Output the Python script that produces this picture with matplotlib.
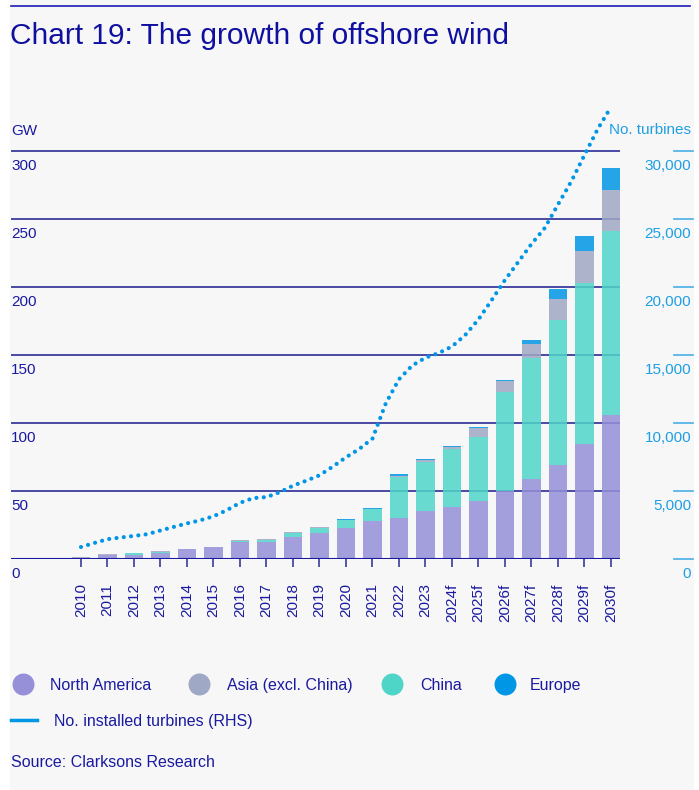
import matplotlib
matplotlib.use("Agg")
import matplotlib.pyplot as plt
import numpy as np
from matplotlib.patches import Rectangle
from matplotlib.transforms import blended_transform_factory, ScaledTranslation

plt.rcParams['font.family'] = ['Liberation Sans', 'DejaVu Sans']

# ---- data -------------------------------------------------------------
years = ['2010', '2011', '2012', '2013', '2014', '2015', '2016', '2017', '2018',
         '2019', '2020', '2021', '2022', '2023', '2024f', '2025f', '2026f',
         '2027f', '2028f', '2029f', '2030f']

# installed capacity, GW
north_america = [1.2, 3.5, 3.2, 4.4, 7.6, 9.0, 13.0, 13.0, 16.7, 19.6, 23.3,
                 28.4, 30.4, 35.5, 38.2, 42.9, 50.0, 59.0, 69.3, 84.8, 106.0]
china = [0.0, 0.0, 1.2, 1.2, 0.0, 0.0, 0.3, 1.5, 3.0, 3.5, 5.7,
         8.6, 30.2, 36.1, 43.2, 47.2, 73.2, 89.2, 106.9, 118.1, 135.6]
asia_ex_china = [0.5, 0.4, 0.3, 0.4, 0.1, 0.1, 0.8, 0.1, 0.2, 0.4, 0.2,
                 0.2, 1.0, 1.2, 1.4, 6.2, 7.9, 9.9, 15.0, 24.0, 29.9]
europe = [0.0, 0.0, 0.0, 0.0, 0.0, 0.0, 0.1, 0.4, 0.4, 0.3, 0.5,
          0.7, 1.2, 0.9, 0.8, 1.1, 0.7, 3.2, 7.5, 10.8, 16.0]

# installed turbines (RHS), half-yearly from 2010 to 2030
turbine_years = [2010 + 0.5 * i for i in range(41)]
turbines = [904, 1199, 1478, 1603, 1720, 1846, 2118, 2382, 2640, 2868, 3162,
            3610, 4154, 4500, 4574, 4934, 5412, 5779, 6176, 6816, 7500, 8110,
            8882, 11456, 13235, 14250, 14824, 15169, 15647, 16493, 17640,
            19066, 20537, 21860, 23184, 24360, 26088, 27779, 29728, 31640,
            33257]

gw_ticks = [0, 50, 100, 150, 200, 250, 300]
turbine_ticks = [0, 5000, 10000, 15000, 20000, 25000, 30000]

# ---- style ------------------------------------------------------------
NAVY = '#1a1aa0'
GRID = '#2b2b96'
SKY = '#1e9fe4'
C_NA = '#9590d8'
C_ASIA = '#9fa8c4'
C_CHINA = '#4fd5c8'
C_EU = '#0096e6'

W, H = 699, 790
fig = plt.figure(figsize=(W / 100, H / 100), dpi=100, facecolor='white')

# page layer in pixel coordinates
bg = fig.add_axes([0, 0, 1, 1], zorder=0)
bg.set_xlim(0, W)
bg.set_ylim(H, 0)
bg.axis('off')
bg.add_patch(Rectangle((10, 0), 684, H, color='#f7f7f7', lw=0))
bg.plot([11, 690], [6, 6], color='#1a1ab4', lw=1.2)
bg.text(10, 36, 'Chart 19: The growth of offshore wind', fontsize=21.5,
        color='#0f0fa0', va='center', ha='left')

# ---- main chart -------------------------------------------------------
y0, ytop = 559.3, 94.0
ax = fig.add_axes([11 / W, 1 - y0 / H, 609 / W, (y0 - ytop) / H], zorder=1)
ax.set_facecolor('none')
x = np.arange(len(years))
ax.set_xlim(-2.6415, 20.34)
gw_max = (y0 - ytop) / 1.36
ax.set_ylim(0, gw_max)
for s in ax.spines.values():
    s.set_visible(False)

for v in gw_ticks[1:]:
    ax.axhline(v, color=GRID, lw=1.2, zorder=0.5)
ax.axhline(0, color=NAVY, lw=1.5, zorder=3)

bottom = np.zeros(len(years))
for vals, col in [(north_america, C_NA), (china, C_CHINA),
                  (asia_ex_china, C_ASIA), (europe, C_EU)]:
    vals = np.array(vals)
    ax.bar(x, vals, width=0.7, bottom=bottom, color=col, alpha=0.85,
           lw=0, zorder=2)
    bottom += vals

ax.set_yticks([])
ax.set_xticks(x, years, rotation=90)
ax.tick_params(axis='x', length=5.8, width=1.1, color=GRID, pad=11.5,
               labelsize=11, labelcolor=NAVY)

lab_off = ScaledTranslation(0, -0.145, fig.dpi_scale_trans)
left_tr = blended_transform_factory(ax.transAxes, ax.transData)
for v in gw_ticks:
    ax.text(0, v, str(v), transform=left_tr + lab_off, ha='left',
            va='center', fontsize=11, color=NAVY)
ax.text(0, 315, 'GW', transform=left_tr, ha='left', va='center',
        fontsize=11, color=NAVY)

# ---- turbines on the right-hand scale ---------------------------------
ax2 = ax.twinx()
ax2.set_zorder(2)
ax2.set_ylim(0, gw_max * 100)
ax2.set_yticks([])
for s in ax2.spines.values():
    s.set_visible(False)
tx = [t - 2010 for t in turbine_years]
ax2.plot(tx, turbines, color=C_EU, lw=3.0, linestyle=(0, (0.01, 1.75)),
         dash_capstyle='round', clip_on=False, zorder=5)

right_tr = blended_transform_factory(ax2.transAxes, ax2.transData)
for v in turbine_ticks:
    ax2.plot([1.0887, 1.1199], [v, v], color='#4aaee8', lw=1.2,
             transform=right_tr, clip_on=False)
    ax2.text(1.1166, v, f'{v:,}', transform=right_tr + lab_off, ha='right',
             va='center', fontsize=11, color=SKY)
ax2.text(1.1166, 31570, 'No. turbines', transform=right_tr, ha='right',
         va='center', fontsize=11, color=SKY)

# ---- legend -----------------------------------------------------------
leg_items = [('North America', C_NA, 23, 50),
             ('Asia (excl. China)', C_ASIA, 199, 227),
             ('China', C_CHINA, 392, 420),
             ('Europe', C_EU, 505, 530)]
for name, col, cx, tx0 in leg_items:
    bg.scatter([cx], [684], s=250, color=col, lw=0)
    bg.text(tx0, 684, name, fontsize=11.5, color=NAVY, va='center_baseline',
            ha='left')
bg.plot([11, 37], [720, 720], color=C_EU, lw=2.5)
bg.text(54, 720, 'No. installed turbines (RHS)', fontsize=11.5, color=NAVY,
        va='center_baseline', ha='left')
bg.text(11, 761, 'Source: Clarksons Research', fontsize=11.5, color=NAVY,
        va='center_baseline', ha='left')

fig.savefig('out.png', dpi=100, facecolor='white')
